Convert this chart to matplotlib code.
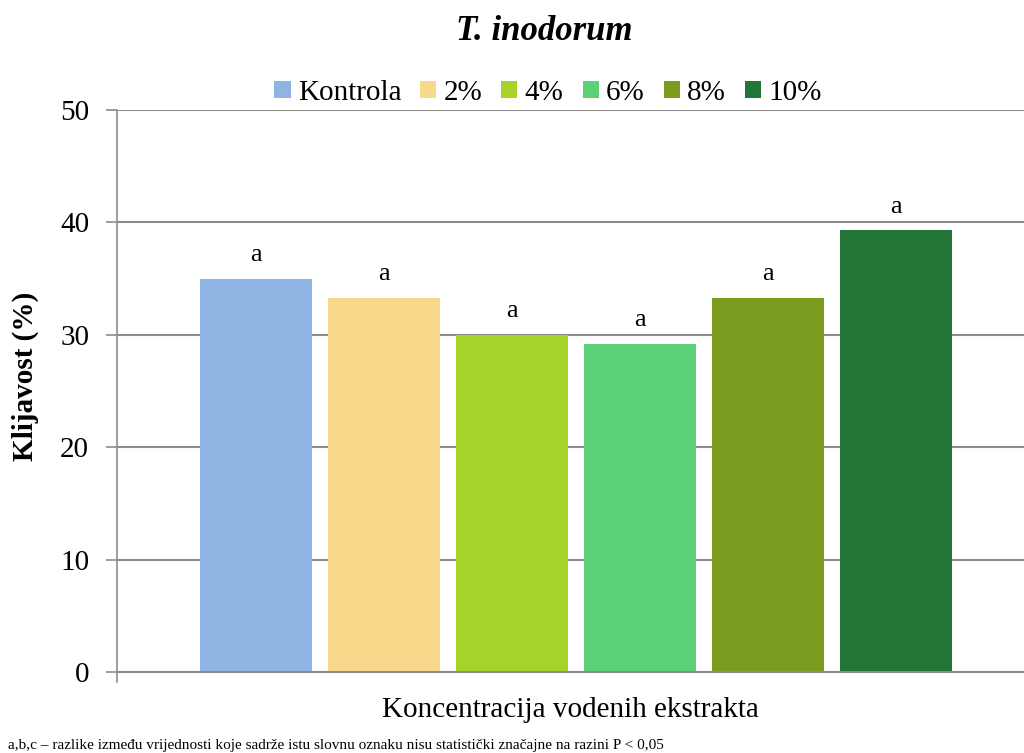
import matplotlib
matplotlib.use("Agg")
import matplotlib.pyplot as plt
import numpy as np

plt.rcParams["font.family"] = ["Liberation Serif", "DejaVu Serif"]

categories = ["Kontrola", "2%", "4%", "6%", "8%", "10%"]
values = [35.0, 33.3, 30.0, 29.2, 33.3, 39.3]
letters = ["a", "a", "a", "a", "a", "a"]
colors = ["#8EB4E3", "#F8D98C", "#A6D22A", "#5DD07A", "#7C9C20", "#217536"]
yticks = [0, 10, 20, 30, 40, 50]

fig = plt.figure(figsize=(10.24, 7.53), dpi=100)
ax = fig.add_axes([117 / 1024, 1 - 672 / 753, 1 - 117 / 1024, (672 - 110) / 753])

x = np.arange(len(categories))
bars = []
for i, (v, c, lab) in enumerate(zip(values, colors, categories)):
    b = ax.bar(x[i], v, width=0.875, color=c, label=lab, zorder=2)
    bars.append(b)
    ax.text(x[i], v + 1.1, letters[i], ha="center", va="bottom", fontsize=19)

ax.set_xlim(-1.086, 6.0)
ax.set_ylim(0, 50)
ax.set_yticks(yticks)
ax.set_yticklabels([str(t) for t in yticks], fontsize=21)
ax.set_xticks([])
ax.grid(axis="y", color="#8C8C8C", linewidth=1.5, zorder=0)
ax.tick_params(axis="y", direction="out", length=8, width=1.2, color="#8C8C8C", pad=12)
for s in ["top", "right"]:
    ax.spines[s].set_visible(False)
ax.spines["left"].set_color("#8C8C8C")
ax.spines["left"].set_linewidth(1.2)
ax.spines["bottom"].set_color("#8C8C8C")
ax.spines["bottom"].set_linewidth(1.5)
ax.spines["left"].set_bounds(-0.9, 50)

fig.text(25 / 1024, 1 - 376 / 753, "Klijavost (%)", rotation=90, ha="center", va="center",
         fontsize=21, fontweight="bold")
ax.set_xlabel("Koncentracija vodenih ekstrakta", fontsize=21, labelpad=18)

fig.text(544 / 1024, 1 - 31 / 753, "T. inodorum", ha="center", va="center",
         fontsize=25, fontweight="bold", fontstyle="italic")

leg = fig.legend(handles=[b[0] for b in bars], labels=categories, loc="center",
                 bbox_to_anchor=(548 / 1024, 1 - 93 / 753), ncol=6, frameon=False,
                 fontsize=21, handlelength=0.55, handleheight=0.55, handletextpad=0.25,
                 columnspacing=0.65)

fig.text(8 / 1024, 1 - 745 / 753,
         "a,b,c \u2013 razlike između vrijednosti koje sadrže istu slovnu oznaku nisu statistički značajne na razini P < 0,05",
         ha="left", va="center", fontsize=11)

fig.savefig("out.png", dpi=100, facecolor="white")
